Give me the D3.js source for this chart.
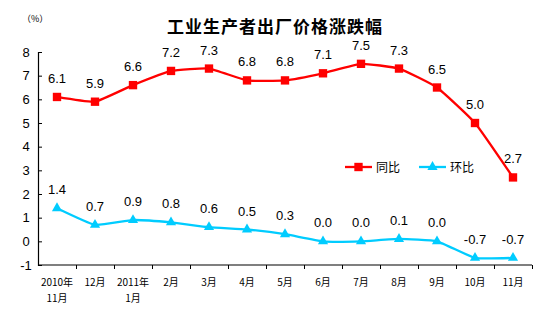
<!DOCTYPE html>
<html><head><meta charset="utf-8">
<script src="https://cdn.jsdelivr.net/npm/d3@7"></script>
<style>body{margin:0;background:#fff}svg{display:block}</style>
</head><body>
<svg id="c" width="554" height="321"></svg>
<script>
const categories = [["2010年","11月"],["12月"],["2011年","1月"],["2月"],["3月"],["4月"],["5月"],["6月"],["7月"],["8月"],["9月"],["10月"],["11月"]];
const yoy = [6.1, 5.9, 6.6, 7.2, 7.3, 6.8, 6.8, 7.1, 7.5, 7.3, 6.5, 5.0, 2.7];
const mom = [1.4, 0.7, 0.9, 0.8, 0.6, 0.5, 0.3, 0.0, 0.0, 0.1, 0.0, -0.7, -0.7];
const yTicks = [-1, 0, 1, 2, 3, 4, 5, 6, 7, 8];
const seriesNames = ["同比", "环比"];
const title = "工业生产者出厂价格涨跌幅";
const unit = "（%）";

const hy = s => s.replace("\u2212", "-");
const svg = d3.select("#c");
const x = d3.scaleBand().domain(d3.range(categories.length)).range([38, 532]);
const y = d3.scaleLinear().domain([-1, 8]).range([265, 52]);
const cx = i => x(i) + x.bandwidth() / 2;

// title
svg.append("text").attr("x", 275).attr("y", 33).attr("text-anchor", "middle")
  .attr("font-family", "Noto Sans CJK SC").attr("font-weight", "bold").attr("font-size", 17)
  .attr("letter-spacing", 1).attr("fill", "#000").text(title);
svg.append("text").attr("x", 22).attr("y", 22)
  .attr("font-family", "Noto Sans CJK SC").attr("font-size", 9).attr("fill", "#000").text(unit);

// y axis
const ya = svg.append("g").attr("transform", "translate(38,0)")
  .call(d3.axisLeft(y).tickValues(yTicks).tickSize(-4).tickPadding(18).tickFormat(d => hy(d3.format("d")(d))));
ya.select(".domain").attr("stroke", "#000").attr("stroke-width", 1.2);
ya.selectAll(".tick line").attr("stroke", "#000");
ya.selectAll(".tick text").attr("font-family", "Liberation Sans, Arial").attr("font-size", 13).attr("fill", "#000").attr("text-anchor", "middle").attr("dx", 6);

// x axis
const xa = svg.append("g").attr("transform", "translate(0,265)")
  .call(d3.axisBottom(d3.scaleLinear().domain([0, categories.length]).range([38, 532]))
    .tickValues(d3.range(1, categories.length + 1)).tickSize(4).tickFormat(""));
xa.select(".domain").attr("stroke", "#000").attr("stroke-width", 1.2).attr("d", "M38,0H532");
xa.selectAll(".tick line").attr("stroke", "#000");
categories.forEach((lines, i) => {
  const t = svg.append("text").attr("x", cx(i)).attr("y", 286).attr("text-anchor", "middle")
    .attr("font-family", "Noto Sans CJK SC").attr("font-size", 10).attr("fill", "#000");
  lines.forEach((l, j) => t.append("tspan").attr("x", cx(i)).attr("dy", j ? 16 : 0).text(l));
});

const line = d3.line().x((d, i) => cx(i)).y(d => y(d)).curve(d3.curveCardinal.tension(0.6));

function drawSeries(data, color, shape) {
  svg.append("path").datum(data).attr("d", line).attr("fill", "none")
    .attr("stroke", color).attr("stroke-width", 2.3);
  svg.selectAll(null).data(data).enter().append("path")
    .attr("transform", (d, i) => `translate(${cx(i)},${y(d)})`)
    .attr("d", d3.symbol().type(shape).size(shape === d3.symbolSquare ? 70 : 45))
    .attr("fill", color);
  svg.selectAll(null).data(data).enter().append("text")
    .attr("x", (d, i) => cx(i)).attr("y", d => y(d) - 14).attr("text-anchor", "middle")
    .attr("font-family", "Liberation Sans, Arial").attr("font-size", 13).attr("fill", "#000")
    .text(d => hy(d3.format(".1f")(d)));
}
drawSeries(yoy, "#ff0000", d3.symbolSquare);
drawSeries(mom, "#00ccff", d3.symbolTriangle);

// legend
const leg = [{n: seriesNames[0], c: "#ff0000", s: d3.symbolSquare, x: 345},
             {n: seriesNames[1], c: "#00ccff", s: d3.symbolTriangle, x: 419}];
leg.forEach(l => {
  svg.append("line").attr("x1", l.x).attr("x2", l.x + 27).attr("y1", 167).attr("y2", 167)
    .attr("stroke", l.c).attr("stroke-width", 2.3);
  svg.append("path").attr("transform", `translate(${l.x + 13.5},167)`)
    .attr("d", d3.symbol().type(l.s).size(l.s === d3.symbolSquare ? 70 : 45)).attr("fill", l.c);
  svg.append("text").attr("x", l.x + 31).attr("y", 171.5).attr("font-family", "Noto Sans CJK SC")
    .attr("font-size", 12).attr("fill", "#000").text(l.n);
});
</script>
</body></html>
